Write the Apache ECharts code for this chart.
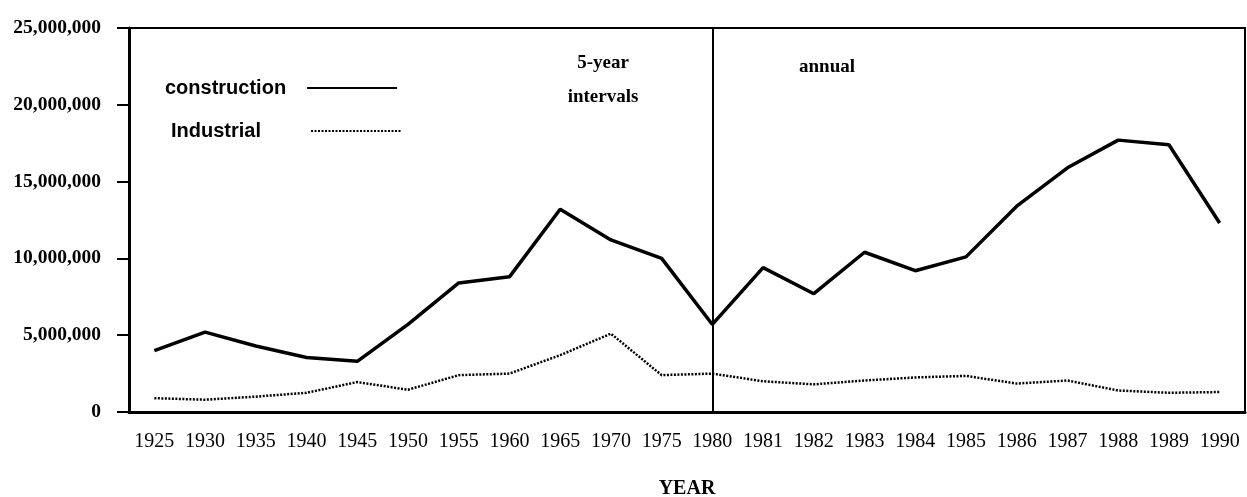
<!DOCTYPE html>
<html>
<head>
<meta charset="utf-8">
<script src="https://cdn.jsdelivr.net/npm/echarts@6/dist/echarts.min.js"></script>
<style>
  html, body { margin: 0; padding: 0; background: #fff; }
  #main { width: 1247px; height: 497px; }
</style>
</head>
<body>
<div id="main"></div>
<script>
// years: 5-year steps up to 1980, then annual
var years = ['1925', '1930', '1935', '1940', '1945', '1950', '1955', '1960', '1965', '1970', '1975',
             '1980', '1981', '1982', '1983', '1984', '1985', '1986', '1987', '1988', '1989', '1990'];

var construction = [4000000, 5200000, 4300000, 3550000, 3300000, 5700000, 8400000, 8800000, 13200000, 11200000, 10000000,
                    5700000, 9400000, 7700000, 10400000, 9200000, 10100000, 13400000, 15900000, 17700000, 17400000, 12300000];

var industrial = [900000, 800000, 1000000, 1250000, 1950000, 1450000, 2400000, 2500000, 3700000, 5100000, 2400000,
                  2500000, 2000000, 1800000, 2050000, 2250000, 2350000, 1850000, 2050000, 1400000, 1250000, 1300000];

var yTicks = [0, 5000000, 10000000, 15000000, 20000000, 25000000];

var serif = '"Liberation Serif", "DejaVu Serif", serif';
var sans = '"Liberation Sans", Arial, sans-serif';

var myChart = echarts.init(document.getElementById('main'));

function legendBox(name, left, top, padRight) {
  return {
    left: left,
    top: top,
    align: 'right',
    itemWidth: 90,
    itemHeight: 14,
    itemStyle: { opacity: 0 },   // line only, no dot
    textStyle: {
      fontFamily: sans,
      fontWeight: 'bold',
      fontSize: 20,
      color: '#000',
      padding: [0, padRight, 0, 0]
    },
    data: [name]
  };
}

var option = {
  animation: false,
  backgroundColor: '#fff',
  grid: {
    left: 129,
    right: 2,
    top: 28,
    bottom: 85,
    outerBoundsMode: 'none',
    show: true,
    borderColor: '#000',
    borderWidth: 2
  },
  legend: [
    legendBox('construction', 160, 73, 16),
    legendBox('Industrial', 166, 116, 45)
  ],
  xAxis: {
    type: 'category',
    data: years,
    boundaryGap: true,
    name: 'YEAR',
    nameLocation: 'middle',
    nameGap: 67,
    nameTextStyle: {
      fontFamily: serif,
      fontWeight: 'bold',
      fontSize: 20,
      color: '#000',
      verticalAlign: 'top'
    },
    axisLine: { lineStyle: { color: '#000', width: 3 } },
    axisTick: { alignWithLabel: true, length: 11, lineStyle: { color: '#000', width: 2 } },
    axisLabel: {
      interval: 0,
      margin: 20,
      fontFamily: serif,
      fontSize: 20,
      color: '#000'
    },
    splitLine: { show: false }
  },
  yAxis: {
    type: 'value',
    min: yTicks[0],
    max: yTicks[yTicks.length - 1],
    interval: yTicks[1] - yTicks[0],
    axisLine: { show: true, lineStyle: { color: '#000', width: 3 } },
    axisTick: { show: true, length: 12, lineStyle: { color: '#000', width: 2 } },
    axisLabel: {
      margin: 28,
      fontFamily: serif,
      fontWeight: 'bold',
      fontSize: 19.5,
      color: '#000',
      formatter: function (v) { return v.toLocaleString('en-US'); }
    },
    splitLine: { show: false }
  },
  graphic: [
    {
      type: 'text', x: 603, y: 63,
      style: { text: '5-year', font: 'bold 19px ' + serif, fill: '#000', align: 'center', verticalAlign: 'middle' }
    },
    {
      type: 'text', x: 603, y: 97,
      style: { text: 'intervals', font: 'bold 19px ' + serif, fill: '#000', align: 'center', verticalAlign: 'middle' }
    },
    {
      type: 'text', x: 799, y: 67,
      style: { text: 'annual', font: 'bold 19px ' + serif, fill: '#000', align: 'left', verticalAlign: 'middle' }
    }
  ],
  series: [
    {
      name: 'construction',
      type: 'line',
      data: construction,
      symbol: 'none',
      lineStyle: { color: '#000', width: 3.5, type: 'solid' },
      itemStyle: { color: '#000' },
      markLine: {
        silent: true,
        symbol: 'none',
        label: { show: false },
        lineStyle: { color: '#000', width: 2, type: 'solid' },
        data: [{ xAxis: '1980' }]
      }
    },
    {
      name: 'Industrial',
      type: 'line',
      data: industrial,
      symbol: 'none',
      lineStyle: { color: '#000', width: 2.5, type: [2, 1.5] },
      itemStyle: { color: '#000' }
    }
  ]
};

myChart.setOption(option);
</script>
</body>
</html>
